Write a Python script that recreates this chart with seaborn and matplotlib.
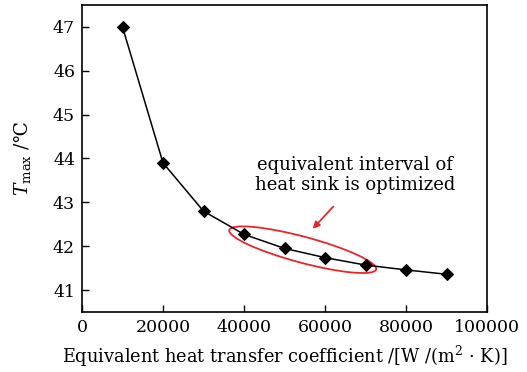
import matplotlib
matplotlib.use("Agg")
import matplotlib.pyplot as plt
import matplotlib.transforms as mtransforms
from matplotlib.patches import Ellipse
import seaborn as sns
import pandas as pd

coef = [10000, 20000, 30000, 40000, 50000, 60000, 70000, 80000, 90000]
tmax = [47.0, 43.9, 42.8, 42.27, 41.95, 41.74, 41.57, 41.46, 41.36]
xticks = [0, 20000, 40000, 60000, 80000, 100000]
yticks = [41, 42, 43, 44, 45, 46, 47]

sns.set_style("ticks")
plt.rcParams['font.family'] = ['DejaVu Serif', 'DejaVu Sans']
plt.rcParams['mathtext.fontset'] = 'dejavuserif'
plt.rcParams['text.color'] = 'black'
plt.rcParams['axes.labelcolor'] = 'black'

df = pd.DataFrame({"coef": coef, "tmax": tmax})
fig = plt.figure(figsize=(5.27, 3.72), dpi=100)
ax = fig.add_axes([0.1556, 0.1613, 0.7685, 0.8253])
sns.lineplot(data=df, x="coef", y="tmax", ax=ax, color="black", linewidth=1.1,
             marker="D", markersize=6.5, markerfacecolor="black", markeredgecolor="black")
ax.set_xlim(0, 100000)
ax.set_ylim(40.5, 47.5)
ax.set_xticks(xticks)
ax.set_yticks(yticks)
ax.set_xticklabels([str(v) for v in xticks])
ax.tick_params(direction="in", length=5, width=1, labelsize=12.5, colors="black", pad=5)
for s in ax.spines.values():
    s.set_linewidth(1.2)
    s.set_color("black")
ax.set_xlabel("Equivalent heat transfer coefficient /[W /(m$^2$ · K)]", fontsize=12.8, labelpad=6)
ax.set_ylabel(r"$\mathbf{\mathit{T}}_{\mathrm{max}}$ /℃", fontsize=13.5)
ax.yaxis.set_label_coords(-0.121, 0.5)

# annotation: ellipse and arrow
trans = fig.dpi_scale_trans + mtransforms.ScaledTranslation(54500, 41.92, ax.transData)
ell = Ellipse((0, 0), width=1.52, height=0.26, angle=-15, transform=trans,
              fill=False, edgecolor="#e8262a", linewidth=1.3)
ax.add_patch(ell)
ax.annotate("", xy=(56500, 42.35), xytext=(62500, 42.95),
            arrowprops=dict(arrowstyle="-|>", color="#e8262a", lw=1.3, mutation_scale=10))
ax.text(67500, 43.62, "equivalent interval of\nheat sink is optimized", ha="center", va="center",
        fontsize=13, linespacing=1.15)

fig.savefig("out.png", dpi=100)
